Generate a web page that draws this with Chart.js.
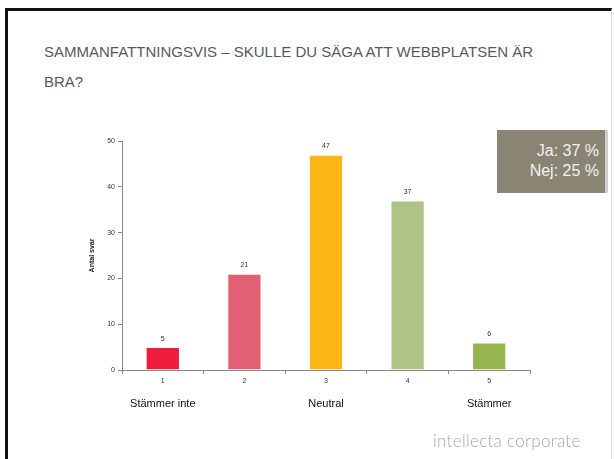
<!DOCTYPE html>
<html>
<head>
<meta charset="utf-8">
<script src="https://cdn.jsdelivr.net/npm/chart.js@4.4.0/dist/chart.umd.min.js"></script>
<style>
  html, body { margin: 0; padding: 0; background: #fff; }
  body { width: 614px; height: 459px; position: relative; overflow: hidden; font-family: "Liberation Sans", Arial, sans-serif; }
  .slide { position: absolute; left: 5px; top: 8px; width: 603px; height: 470px;
           border-top: 3px solid #111; border-left: 3px solid #111; border-right: 1px solid #ddd; }
  .title { position: absolute; left: 44px; top: 37px; font-size: 15px; line-height: 30px; letter-spacing: 0px; color: #595959; white-space: nowrap; }
  .box { position: absolute; left: 497px; top: 130px; width: 111px; height: 63px; background: #8a8475;
         border-right: 3px solid #cfcfcf; color: #f4f2ec; font-size: 16px; line-height: 20px; text-align: right; box-sizing: border-box; padding: 11px 6px 0 0; }
  .logo { position: absolute; left: 433px; top: 430px; font-family: Lato, "Open Sans", sans-serif; font-weight: 300; font-size: 17px; letter-spacing: 0.3px; color: #aca69f; white-space: nowrap; }
  canvas { position: absolute; left: 0; top: 0; }
</style>
</head>
<body>
<div class="slide"></div>
<div class="title">SAMMANFATTNINGSVIS – SKULLE DU SÄGA ATT WEBBPLATSEN ÄR<br>BRA?</div>
<canvas id="chart" width="614" height="459"></canvas>
<div class="box">Ja: 37 %<br>Nej: 25 %</div>
<div class="logo">intellecta corporate</div>
<script>
const categories = ['1', '2', '3', '4', '5']
const answers = [5, 21, 47, 37, 6]
const scaleLabels = ['Stämmer inte', '', 'Neutral', '', 'Stämmer']
const barColors = ['#ed1b3c', '#e06173', '#fdb714', '#aec386', '#96b54f']
const yTicks = [0, 10, 20, 30, 40, 50]

// small value labels above each bar
const valueLabels = {
  id: 'valueLabels',
  afterDatasetsDraw(chart) {
    const ctx = chart.ctx
    const meta = chart.getDatasetMeta(0)
    ctx.save()
    ctx.font = '7px "Liberation Sans", Arial, sans-serif'
    ctx.fillStyle = '#333'
    ctx.textAlign = 'center'
    ctx.textBaseline = 'bottom'
    meta.data.forEach((bar, i) => {
      ctx.fillText(answers[i], bar.x, bar.y - 5)
    })
    ctx.restore()
  }
}

new Chart(document.getElementById('chart'), {
  type: 'bar',
  data: {
    labels: categories,
    datasets: [{
      data: answers,
      backgroundColor: barColors,
      borderColor: 'rgba(255,255,255,0.4)',
      borderWidth: 1,
      categoryPercentage: 0.42,
      barPercentage: 1
    }]
  },
  options: {
    responsive: false,
    animation: false,
    layout: { padding: { left: 88, right: 84, top: 141, bottom: 46 } },
    plugins: { legend: { display: false }, tooltip: { enabled: false } },
    scales: {
      y: {
        min: 0, max: 50,
        afterBuildTicks: (s) => { s.ticks = yTicks.map(v => ({ value: v })) },
        afterFit: (s) => { s.width = 34 },
        border: { color: '#888' },
        grid: { drawOnChartArea: false, tickLength: 4, color: '#888' },
        ticks: { font: { size: 7, family: '"Liberation Sans", Arial' }, color: '#333', padding: 3 },
        title: { display: true, text: 'Antal svar', font: { size: 7, weight: 'bold', family: '"Liberation Sans", Arial' }, color: '#222', padding: 0 }
      },
      x: {
        afterFit: (s) => { s.height = 19 },
        border: { color: '#888' },
        grid: { drawOnChartArea: false, tickLength: 4, color: '#888', offset: true },
        ticks: { font: { size: 7, family: '"Liberation Sans", Arial' }, color: '#333', padding: 3 }
      },
      x2: {
        type: 'category',
        position: 'bottom',
        labels: scaleLabels,
        afterFit: (s) => { s.height = 24 },
        border: { display: false },
        grid: { display: false },
        ticks: { font: { size: 11, family: '"Liberation Sans", Arial' }, color: '#111', padding: 0, autoSkip: false, maxRotation: 0 }
      }
    }
  },
  plugins: [valueLabels]
})
</script>
</body>
</html>
